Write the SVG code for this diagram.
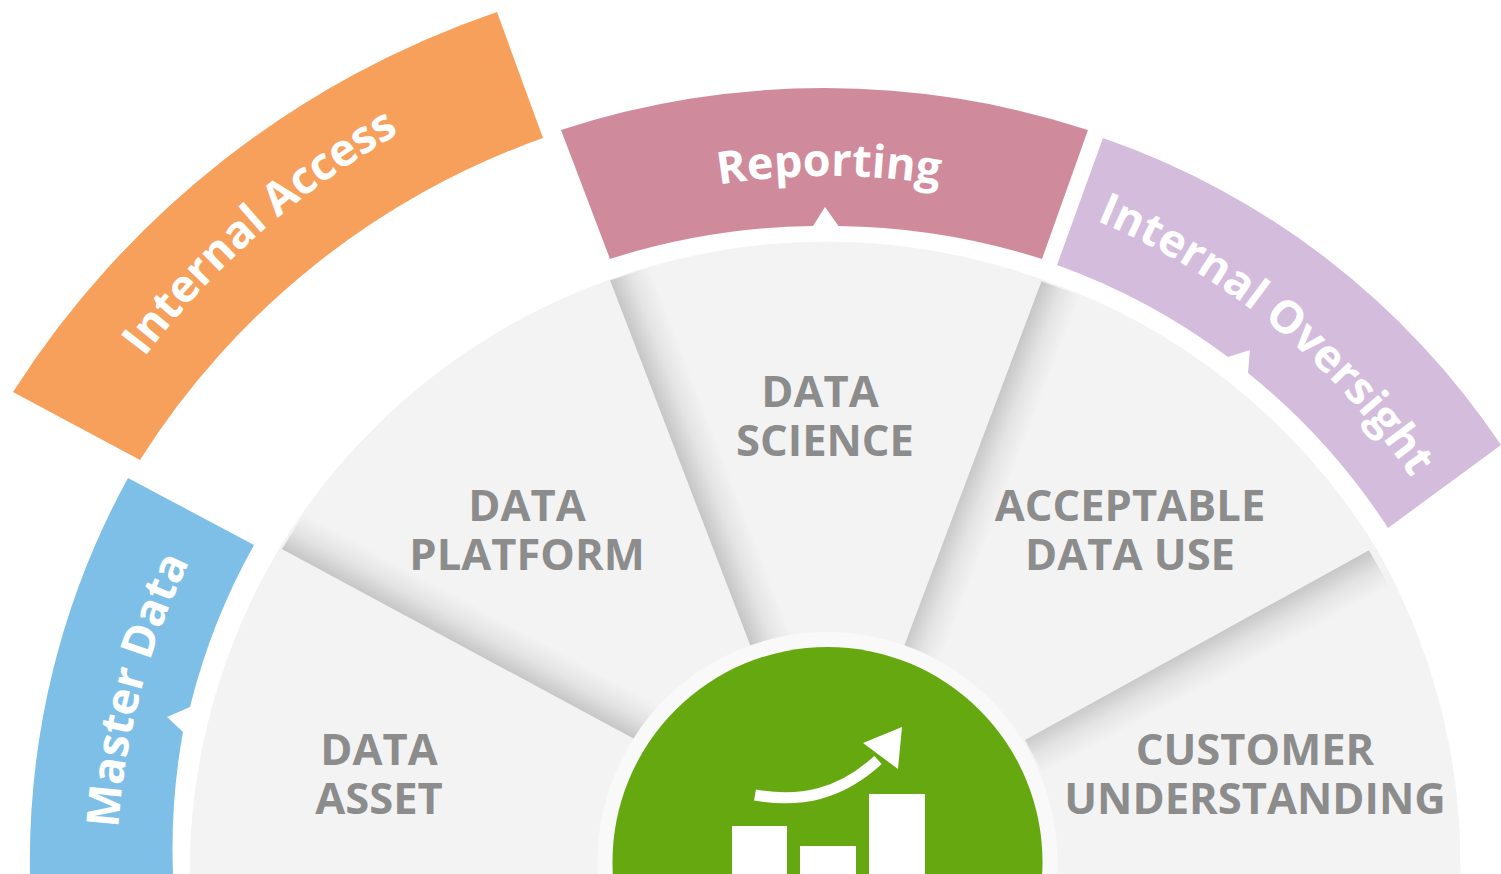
<svg xmlns="http://www.w3.org/2000/svg" width="1501" height="874" viewBox="0 0 1501 874">
<style>
.lbl{font-family:"Open Sans","Noto Sans","Liberation Sans",sans-serif;font-weight:700;font-size:43.5px;fill:#8c8c8c;text-anchor:middle}
.arc{font-family:"Open Sans","Noto Sans","Liberation Sans",sans-serif;font-weight:700;font-size:45px;fill:#fff;text-anchor:middle}
.sec{fill:#f3f3f3;stroke:#f3f3f3;stroke-width:1}
</style>
<defs>
<linearGradient id="s1" gradientUnits="userSpaceOnUse" x1="280" y1="548" x2="300" y2="511"><stop offset="0" stop-color="#c6c6c6"/><stop offset=".5" stop-color="#c6c6c6" stop-opacity=".35"/><stop offset="1" stop-color="#c6c6c6" stop-opacity="0"/></linearGradient>
<linearGradient id="s2" gradientUnits="userSpaceOnUse" x1="610" y1="280" x2="649" y2="265"><stop offset="0" stop-color="#c6c6c6"/><stop offset=".5" stop-color="#c6c6c6" stop-opacity=".35"/><stop offset="1" stop-color="#c6c6c6" stop-opacity="0"/></linearGradient>
<linearGradient id="s3" gradientUnits="userSpaceOnUse" x1="1042" y1="280" x2="1081" y2="295"><stop offset="0" stop-color="#c6c6c6"/><stop offset=".5" stop-color="#c6c6c6" stop-opacity=".35"/><stop offset="1" stop-color="#c6c6c6" stop-opacity="0"/></linearGradient>
<linearGradient id="s4" gradientUnits="userSpaceOnUse" x1="1375" y1="547" x2="1395" y2="584"><stop offset="0" stop-color="#c6c6c6"/><stop offset=".5" stop-color="#c6c6c6" stop-opacity=".35"/><stop offset="1" stop-color="#c6c6c6" stop-opacity="0"/></linearGradient>
<clipPath id="fan"><circle cx="825" cy="878" r="635"/></clipPath>
<path id="pa" d="M42,531 A855,855 0 0 1 585,54.4"/>
<path id="pr" d="M529,243.5 A700,700 0 0 1 1129,243.5"/>
<path id="po" d="M938,176 A708,708 0 0 1 1487,624"/>
<path id="pm" d="M141,1058 A708,708 0 0 1 324,374"/>
</defs>
<rect width="1501" height="874" fill="#fff"/>
<g id="data-asset">
<path class="sec" d="M190,874 A635,635 0 0 1 280,548 L640,742 L825,860 L825,874 Z"/>
<text class="lbl" x="379" y="765">DATA</text><text class="lbl" x="379" y="814">ASSET</text>
</g>
<g id="data-platform">
<path class="sec" d="M280,548 A635,635 0 0 1 610,280 L748,640 L825,860 L640,742 Z"/>
<path clip-path="url(#fan)" fill="url(#s1)" d="M280,548 L640,742 L660,705 L300,511 Z"/>
<text class="lbl" x="527" y="521">DATA</text><text class="lbl" x="527" y="570">PLATFORM</text>
</g>
<g id="data-science">
<path class="sec" d="M610,280 A635,635 0 0 1 1042,280 L905,645 L825,860 L748,640 Z"/>
<path clip-path="url(#fan)" fill="url(#s2)" d="M610,280 L759,668 L798,653 L649,265 Z"/>
<text class="lbl" x="820" y="407">DATA</text><text class="lbl" x="825" y="456">SCIENCE</text>
</g>
<g id="acceptable-data-use">
<path class="sec" d="M1042,280 A635,635 0 0 1 1375,547 L1025,740 L825,860 L905,645 Z"/>
<path clip-path="url(#fan)" fill="url(#s3)" d="M1042,280 L894,673 L933,688 L1081,295 Z"/>
<text class="lbl" x="1130" y="521">ACCEPTABLE</text><text class="lbl" x="1130" y="570">DATA USE</text>
</g>
<g id="customer-understanding">
<path class="sec" d="M1375,547 A635,635 0 0 1 1460,874 L825,874 L825,860 L1025,740 Z"/>
<path clip-path="url(#fan)" fill="url(#s4)" d="M1375,547 L1025,740 L1045,777 L1395,584 Z"/>
<text class="lbl" x="1255" y="765">CUSTOMER</text><text class="lbl" x="1255" y="814">UNDERSTANDING</text>
</g>
<g id="center">
<circle cx="827.5" cy="862" r="230" fill="#f9f9f9"/>
<circle cx="827.5" cy="862" r="215" fill="#66a80f"/>
<path d="M755,795 C800,803 840,795 878,760" fill="none" stroke="#fff" stroke-width="11"/>
<path d="M863,743 L902,727 L898,769 Z" fill="#fff"/>
<rect x="732" y="826" width="55" height="48" fill="#fff"/>
<rect x="800" y="846" width="56" height="28" fill="#fff"/>
<rect x="869" y="794" width="56" height="80" fill="#fff"/>
</g>
<g id="master-data">
<path fill="#7dbfe6" d="M30,874 A795,795 0 0 1 128,478 L254,545 A652,652 0 0 0 190,707 L167,717 L183,732 A652,652 0 0 0 173,874 Z"/>
<text class="arc"><textPath href="#pm" startOffset="50%">Master Data</textPath></text>
</g>
<g id="internal-access">
<path fill="#f7a05c" d="M13,392 A930,930 0 0 1 497,12 L543,138 A790,790 0 0 0 140,460 Z"/>
<text class="arc"><textPath href="#pa" startOffset="50%">Internal Access</textPath></text>
</g>
<g id="reporting">
<path fill="#cf8b9b" d="M561,130 A848,848 0 0 1 1088,130 L1042,259 A700,700 0 0 0 838.5,226 L825,207 L813,226 A700,700 0 0 0 610,259 Z"/>
<text class="arc"><textPath href="#pr" startOffset="50%">Reporting</textPath></text>
</g>
<g id="internal-oversight">
<path fill="#d3bcdc" d="M1103,138 A790,790 0 0 1 1501,445 L1388,528 A656,656 0 0 0 1248,373 L1250,350 L1228,357 A656,656 0 0 0 1057,265 Z"/>
<text class="arc"><textPath href="#po" startOffset="50%">Internal Oversight</textPath></text>
</g>
</svg>
